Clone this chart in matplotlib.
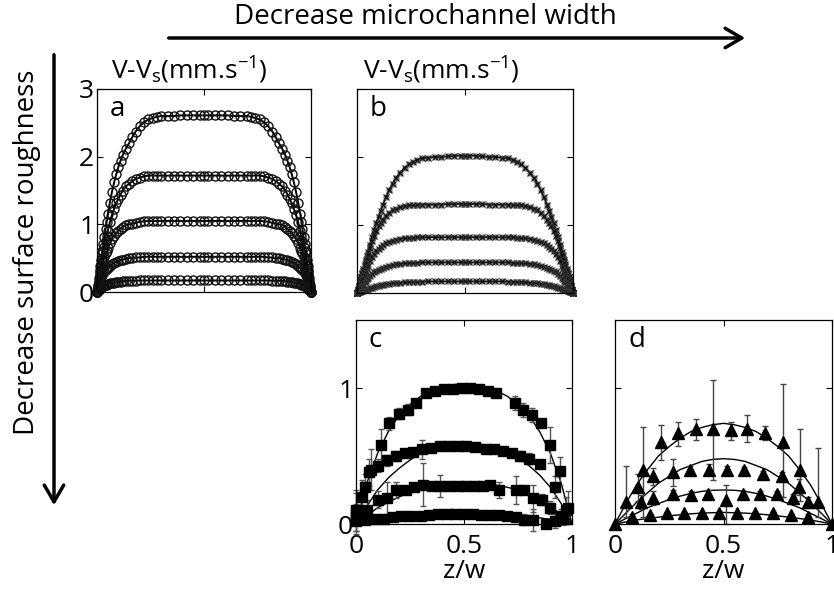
import numpy as np
import matplotlib
matplotlib.use("Agg")
import matplotlib.pyplot as plt
from matplotlib.patches import FancyArrowPatch

plt.rcParams['font.family'] = ['Open Sans', 'DejaVu Sans']
plt.rcParams['mathtext.fontset'] = 'custom'
plt.rcParams['mathtext.rm'] = 'Open Sans'
plt.rcParams['mathtext.it'] = 'Open Sans'

# half-profile grid (0 -> 0.5), profiles are symmetric about the centre
xh = [0, 0.004, 0.008, 0.012, 0.016, 0.02, 0.025, 0.03, 0.035, 0.04, 0.045, 0.05,
      0.06, 0.07, 0.08, 0.09, 0.1, 0.11, 0.12,
      0.135, 0.15, 0.165, 0.18, 0.2, 0.22, 0.24,
      0.26, 0.28, 0.3, 0.33, 0.36, 0.39, 0.42, 0.45, 0.48, 0.5]

# panel a : widest channel, roughest wall
a1 = [0, .1, .2, .3, .39, .48, .6, .71, .82, .93, 1.04, 1.15,
      1.32, 1.48, 1.62, 1.74, 1.85, 1.94, 2.02,
      2.12, 2.2, 2.29, 2.37, 2.45, 2.51, 2.55,
      2.57, 2.59, 2.6, 2.6, 2.6, 2.61, 2.61, 2.61, 2.61, 2.61]
a2 = [0, .08, .16, .24, .32, .4, .5, .59, .67, .75, .83, .9,
      1.03, 1.14, 1.23, 1.31, 1.38, 1.44, 1.5,
      1.56, 1.6, 1.64, 1.67, 1.69, 1.71, 1.72,
      1.72, 1.72, 1.72, 1.72, 1.72, 1.72, 1.72, 1.72, 1.72, 1.72]
a3 = [0, .07, .14, .21, .27, .33, .4, .46, .52, .57, .61, .65,
      .72, .78, .83, .87, .9, .93, .96,
      .99, 1.0, 1.01, 1.02, 1.04, 1.045, 1.05,
      1.05, 1.05, 1.05, 1.05, 1.05, 1.05, 1.05, 1.05, 1.05, 1.05]
a4 = [0, .05, .1, .14, .18, .22, .25, .28, .31, .33, .35, .36,
      .39, .41, .43, .45, .46, .47, .48,
      .49, .5, .5, .51, .51, .52, .52,
      .52, .52, .52, .52, .52, .52, .52, .52, .52, .52]
a5 = [0, .02, .035, .05, .06, .07, .08, .09, .1, .105, .11, .12,
      .13, .135, .14, .145, .15, .155, .16,
      .163, .165, .167, .168, .17, .17, .17,
      .17, .17, .17, .17, .17, .17, .17, .17, .17, .17]

# panel b
b1 = [0, .05, .1, .14, .19, .24, .3, .36, .42, .48, .54, .6,
      .71, .82, .93, 1.03, 1.12, 1.21, 1.3,
      1.41, 1.52, 1.61, 1.69, 1.77, 1.84, 1.89,
      1.93, 1.96, 1.98, 1.99, 2.0, 2.0, 2.01, 2.02, 2.02, 2.02]
b2 = [0, .05, .1, .15, .2, .24, .28, .33, .39, .45, .5, .56,
      .66, .76, .84, .91, .98, 1.03, 1.08,
      1.13, 1.18, 1.22, 1.24, 1.26, 1.28, 1.29,
      1.29, 1.3, 1.3, 1.3, 1.3, 1.3, 1.31, 1.31, 1.31, 1.31]
b3 = [0, .04, .08, .11, .14, .18, .22, .26, .29, .33, .37, .4,
      .47, .53, .58, .62, .65, .68, .7,
      .73, .75, .77, .78, .8, .805, .81,
      .815, .82, .82, .82, .82, .82, .82, .82, .82, .82]
b4 = [0, .02, .04, .06, .08, .1, .12, .14, .16, .18, .2, .22,
      .25, .28, .31, .33, .34, .36, .37,
      .38, .4, .41, .42, .43, .435, .44,
      .44, .445, .45, .45, .45, .45, .45, .45, .45, .45]
b5 = [0, .01, .015, .02, .025, .03, .035, .04, .045, .05, .055, .06,
      .07, .08, .09, .1, .11, .115, .12,
      .13, .135, .14, .145, .15, .155, .16,
      .163, .165, .167, .17, .17, .17, .17, .17, .17, .17]

# panel c : squares with error bars
c1_x = [0.0, 0.04, 0.07, 0.114, 0.155, 0.197, 0.24, 0.28, 0.325, 0.366, 0.407, 0.448,
        0.49, 0.53, 0.57, 0.61, 0.65, 0.735, 0.775, 0.817, 0.858, 0.9, 0.944, 0.98]
c1_y = [0.1, 0.27, 0.4, 0.58, 0.74, 0.81, 0.84, 0.89, 0.965, 0.98, 0.99, 0.99,
        1.0, 1.0, 0.99, 0.98, 0.965, 0.89, 0.84, 0.8, 0.74, 0.58, 0.39, 0.12]
c1_e = [0.15, 0.1, 0.15, 0.12, 0.05, 0.04, 0.04, 0.02, 0.01, 0.01, 0.01, 0.01,
        0.01, 0.01, 0.01, 0.01, 0.01, 0.05, 0.05, 0.05, 0.03, 0.13, 0.1, 0.12]
c2_x = [0.0, 0.03, 0.06, 0.1, 0.142, 0.185, 0.225, 0.265, 0.305, 0.345, 0.39, 0.43,
        0.47, 0.51, 0.55, 0.6, 0.64, 0.68, 0.72, 0.76, 0.8, 0.85, 0.92, 0.97]
c2_y = [0.08, 0.2, 0.38, 0.43, 0.47, 0.5, 0.52, 0.53, 0.55, 0.56, 0.57, 0.575,
        0.575, 0.57, 0.565, 0.55, 0.55, 0.54, 0.52, 0.5, 0.48, 0.44, 0.27, 0.1]
c2_e = [0.15, 0.12, 0.1, 0.05, 0.04, 0.04, 0.03, 0.03, 0.07, 0.02, 0.01, 0.01,
        0.01, 0.01, 0.01, 0.01, 0.01, 0.02, 0.03, 0.04, 0.04, 0.03, 0.08, 0.1]
c3_x = [0.0, 0.05, 0.103, 0.142, 0.185, 0.23, 0.27, 0.31, 0.35, 0.39, 0.43, 0.47,
        0.51, 0.55, 0.59, 0.62, 0.662, 0.74, 0.78, 0.82, 0.86, 0.9, 0.95]
c3_y = [0.05, 0.1, 0.18, 0.19, 0.25, 0.25, 0.27, 0.29, 0.28, 0.28, 0.28, 0.28,
        0.28, 0.28, 0.28, 0.29, 0.25, 0.25, 0.25, 0.19, 0.18, 0.12, 0.06]
c3_e = [0.1, 0.08, 0.06, 0.12, 0.06, 0.03, 0.02, 0.155, 0.02, 0.08, 0.01, 0.01,
        0.01, 0.01, 0.01, 0.01, 0.06, 0.1, 0.02, 0.1, 0.04, 0.05, 0.05]
c4_x = [0.0, 0.04, 0.09, 0.13, 0.17, 0.21, 0.25, 0.3, 0.34, 0.38, 0.42, 0.46,
        0.5, 0.54, 0.58, 0.62, 0.66, 0.7, 0.74, 0.78, 0.82, 0.88, 0.92, 0.96]
c4_y = [0.02, 0.03, 0.04, 0.04, 0.05, 0.06, 0.06, 0.06, 0.065, 0.07, 0.07, 0.07,
        0.07, 0.07, 0.065, 0.065, 0.065, 0.06, 0.05, 0.03, 0.03, 0.0, 0.02, 0.04]
c4_e = [0.02, 0.02, 0.01, 0.01, 0.01, 0.01, 0.01, 0.01, 0.01, 0.01, 0.01, 0.01,
        0.01, 0.01, 0.01, 0.01, 0.01, 0.01, 0.02, 0.04, 0.08, 0.02, 0.05, 0.05]

# fitted profiles, x = 0 .. 1 step 0.05
xf = np.linspace(0, 1, 21)
cf1 = [0, .3, .52, .68, .8, .88, .94, .98, 1.01, 1.025, 1.03, 1.025, 1.01, .98, .94, .88, .8, .68, .52, .3, 0]
cf2 = [0, .13, .25, .34, .41, .47, .52, .55, .58, .595, .6, .595, .58, .56, .53, .49, .43, .36, .27, .15, 0]
cf3 = [0, .06, .12, .16, .2, .23, .25, .27, .285, .295, .3, .3, .295, .285, .27, .25, .22, .18, .13, .07, 0]
cf4 = [0, .02, .035, .045, .055, .06, .065, .068, .07, .07, .07, .07, .07, .068, .065, .06, .055, .045, .035, .02, 0]

# panel d : triangles, asymmetric error bars
d1_x = [0.0, 0.05, 0.13, 0.21, 0.29, 0.373, 0.453, 0.533, 0.61, 0.69, 0.773, 0.853, 0.937, 1.0]
d1_y = [0.0, 0.16, 0.40, 0.60, 0.67, 0.70, 0.70, 0.69, 0.70, 0.67, 0.60, 0.40, 0.16, 0.0]
d1_lo = [0, 0.11, 0.35, 0.13, 0.1, 0.08, 0.38, 0.07, 0.1, 0.05, 0.4, 0.23, 0.11, 0]
d1_hi = [0, 0.27, 0.31, 0.13, 0.08, 0.07, 0.36, 0.06, 0.1, 0.05, 0.43, 0.3, 0.4, 0]
d2_x = [0.105, 0.177, 0.265, 0.345, 0.435, 0.515, 0.595, 0.68, 0.77, 0.85]
d2_y = [0.27, 0.35, 0.38, 0.40, 0.40, 0.40, 0.40, 0.37, 0.35, 0.27]
d2_e = [0.1, 0.06, 0.1, 0.03, 0.04, 0.03, 0.02, 0.02, 0.03, 0.06]
d3_x = [0.12, 0.177, 0.265, 0.35, 0.43, 0.51, 0.59, 0.67, 0.745, 0.82, 0.89]
d3_y = [0.16, 0.19, 0.22, 0.21, 0.22, 0.18, 0.22, 0.22, 0.22, 0.19, 0.16]
d3_lo = [0.05, 0.05, 0.03, 0.03, 0.03, 0.18, 0.02, 0.02, 0.02, 0.03, 0.04]
d3_hi = [0.05, 0.05, 0.03, 0.03, 0.03, 0.11, 0.02, 0.02, 0.02, 0.03, 0.04]
d4_x = [0.08, 0.16, 0.24, 0.32, 0.4, 0.48, 0.56, 0.645, 0.73, 0.81, 0.89]
d4_y = [0.05, 0.065, 0.08, 0.08, 0.08, 0.08, 0.08, 0.08, 0.08, 0.065, 0.05]
d4_e = [0.02, 0.01, 0.01, 0.01, 0.01, 0.01, 0.01, 0.01, 0.01, 0.01, 0.02]
df1 = [0, .15, .29, .4, .5, .57, .63, .68, .71, .73, .74, .73, .71, .68, .63, .57, .5, .4, .29, .15, 0]
df2 = [0, .08, .16, .23, .3, .35, .4, .43, .46, .475, .48, .475, .46, .43, .4, .35, .3, .23, .16, .08, 0]
df3 = [0, .04, .08, .12, .15, .18, .205, .225, .24, .248, .25, .248, .24, .225, .205, .18, .15, .12, .08, .04, 0]
df4 = [0, .015, .03, .04, .05, .06, .068, .075, .08, .083, .085, .083, .08, .075, .068, .06, .05, .04, .03, .015, 0]


def full(half):
    # mirror the half profile about z/w = 0.5
    h = np.array(half)
    return np.concatenate([h, h[::-1][1:]])


x_full = np.concatenate([np.array(xh), 1 - np.array(xh)[::-1][1:]])

W, H = 834, 593
fig = plt.figure(figsize=(W / 100, H / 100), dpi=100)
TICK = 19


def box(l, t, r, b):
    return [l / W, 1 - b / H, (r - l) / W, (b - t) / H]


def style(ax, ymax, yt, ylab, xlab):
    ax.set_xlim(0, 1)
    ax.set_ylim(0, ymax)
    ax.set_xticks([0, 0.5, 1])
    ax.set_yticks(yt)
    ax.tick_params(direction='in', top=True, right=True, length=4, width=0.8,
                   labelsize=TICK, pad=2)
    ax.tick_params(axis='x', pad=7)
    if not xlab:
        ax.set_xticklabels([])
    else:
        ax.set_xticklabels(['0', '0.5', '1'])
    if not ylab:
        ax.set_yticklabels([])
    for s in ax.spines.values():
        s.set_linewidth(0.9)


ax_a = fig.add_axes(box(97, 89, 311, 292))
ax_b = fig.add_axes(box(357, 89, 573, 293))
ax_c = fig.add_axes(box(356, 320, 572, 524))
ax_d = fig.add_axes(box(615, 320, 832, 524))

for y in [a1, a2, a3, a4, a5]:
    ax_a.plot(x_full, full(y), '-', color='k', lw=1.4)
    ax_a.plot(x_full, full(y), 'o', mfc='none', mec='#111111', ms=6.5, mew=1.0, clip_on=False)
style(ax_a, 3, [0, 1, 2, 3], True, False)

for y in [b1, b2, b3, b4, b5]:
    ax_b.plot(x_full, full(y), '-', color='k', lw=1.3)
    ax_b.plot(x_full, full(y), 'x', color='#111111', ms=5, mew=0.9, clip_on=False)
    ax_b.plot(x_full, full(y), 'o', mfc='none', mec='#333333', ms=3.5, mew=0.7, clip_on=False)
style(ax_b, 3, [0, 1, 2, 3], False, False)

for yf in [cf1, cf2, cf3, cf4]:
    ax_c.plot(xf, yf, '-', color='k', lw=1.0)
for xs, ys, es in [(c1_x, c1_y, c1_e), (c2_x, c2_y, c2_e), (c3_x, c3_y, c3_e), (c4_x, c4_y, c4_e)]:
    ax_c.errorbar(xs, ys, yerr=es, fmt='s', color='k', ms=7, ecolor='#555555',
                  elinewidth=1.0, capsize=2.5, capthick=1.0, clip_on=False)
style(ax_c, 1.5, [0, 1], True, True)
ax_c.set_xlabel('z/w', fontsize=TICK, labelpad=0)

for yf in [df1, df2, df3, df4]:
    ax_d.plot(xf, yf, '-', color='k', lw=1.0)
ax_d.errorbar(d1_x, d1_y, yerr=[d1_lo, d1_hi], fmt='^', color='k', ms=9, ecolor='#444444',
              elinewidth=1.0, capsize=2.5, capthick=1.0, clip_on=False)
ax_d.errorbar(d2_x, d2_y, yerr=d2_e, fmt='^', color='k', ms=9, ecolor='#444444',
              elinewidth=1.0, capsize=2.5, capthick=1.0, clip_on=False)
ax_d.errorbar(d3_x, d3_y, yerr=[d3_lo, d3_hi], fmt='^', color='k', ms=9, ecolor='#444444',
              elinewidth=1.0, capsize=2.5, capthick=1.0, clip_on=False)
ax_d.errorbar(d4_x, d4_y, yerr=d4_e, fmt='^', color='k', ms=9, ecolor='#444444',
              elinewidth=1.0, capsize=2.5, capthick=1.0, clip_on=False)
style(ax_d, 1.5, [0, 1], False, True)
ax_d.set_xlabel('z/w', fontsize=TICK, labelpad=0)

# panel letters
for ax, lab in [(ax_a, 'a'), (ax_b, 'b'), (ax_c, 'c'), (ax_d, 'd')]:
    ax.text(0.06, 0.97, lab, transform=ax.transAxes, fontsize=20, va='top', ha='left')

ylab = r'V-V$_\mathrm{s}$(mm.s$^\mathrm{-1}$)'
fig.text(189 / W, 1 - 70 / H, ylab, fontsize=TICK, ha='center', va='center')
fig.text(441 / W, 1 - 70 / H, ylab, fontsize=TICK, ha='center', va='center')

fig.text(425 / W, 1 - 17 / H, 'Decrease microchannel width', fontsize=20, ha='center', va='center')
fig.text(27 / W, 1 - 252 / H, 'Decrease surface roughness', fontsize=20, ha='center', va='center',
         rotation=90)

fig.patches.append(FancyArrowPatch((166 / W, 1 - 38 / H), (748 / W, 1 - 38 / H),
                                   transform=fig.transFigure, arrowstyle='->,head_length=0.6,head_width=0.35',
                                   mutation_scale=20, lw=2.5, color='k'))
fig.patches.append(FancyArrowPatch((54 / W, 1 - 52 / H), (54 / W, 1 - 508 / H),
                                   transform=fig.transFigure, arrowstyle='->,head_length=0.6,head_width=0.35',
                                   mutation_scale=20, lw=2.5, color='k'))

fig.savefig('out.png', dpi=100)
